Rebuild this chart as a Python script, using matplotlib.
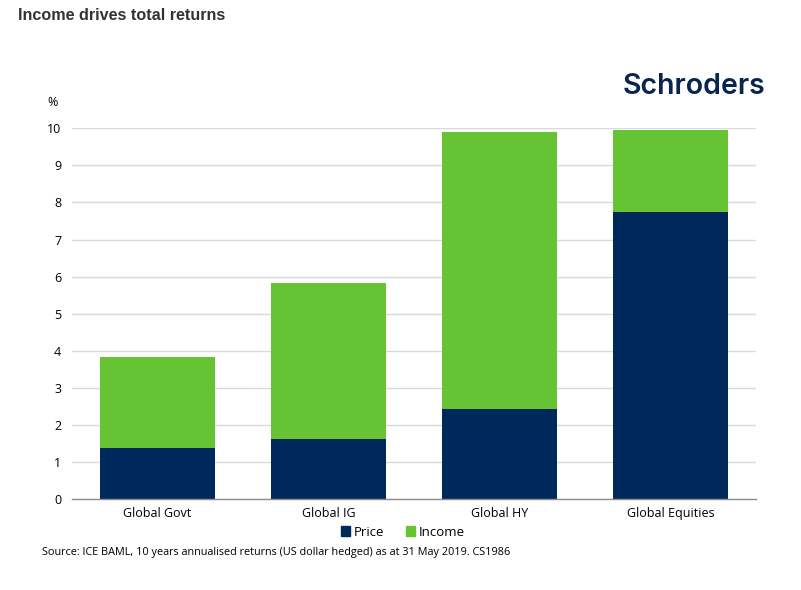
import matplotlib
matplotlib.use("Agg")
import matplotlib.pyplot as plt
import numpy as np
from matplotlib.patches import Patch

categories = ["Global Govt", "Global IG", "Global HY", "Global Equities"]
price = [1.38, 1.61, 2.43, 7.75]
income = [2.46, 4.23, 7.47, 2.20]
yticks = [0, 1, 2, 3, 4, 5, 6, 7, 8, 9, 10]

navy = "#00295B"
green = "#66C434"

plt.rcParams['font.family'] = ['Open Sans', 'DejaVu Sans']

fig = plt.figure(figsize=(8.01, 5.90), dpi=100)
ax = fig.add_axes([0.0895, 0.1542, 0.8545, 0.6283])

x = np.arange(len(categories))
ax.bar(x, price, width=0.67, color=navy, zorder=3)
ax.bar(x, income, width=0.67, bottom=price, color=green, zorder=3)

ax.set_xlim(-0.5, 3.5)
ax.set_ylim(0, 10)
ax.set_yticks(yticks)
ax.set_yticklabels([str(t) for t in yticks])
ax.set_xticks(x)
ax.set_xticklabels(categories)
ax.tick_params(axis='both', length=0, labelsize=9, colors='#000000')
ax.tick_params(axis='y', pad=7.5)
ax.tick_params(axis='x', pad=6)
ax.yaxis.grid(True, color='#d9d9d9', linewidth=1, zorder=0)
ax.set_axisbelow(True)
for s in ['top', 'right', 'left']:
    ax.spines[s].set_visible(False)
ax.spines['bottom'].set_color('#8c8c8c')
ax.spines['bottom'].set_linewidth(1)
ax.spines['bottom'].set_zorder(4)

handles = [Patch(color=navy, label='Price'), Patch(color=green, label='Income')]
fig.legend(handles=handles, loc='center', bbox_to_anchor=(403/801, 1-532/590), ncol=2,
           frameon=False, fontsize=9.5, handlelength=0.7, handleheight=0.7,
           handletextpad=0.3, columnspacing=1.6)

fig.text(18/801, 1-16/590, "Income drives total returns", fontsize=11.6, fontweight='bold',
         color='#333333', family=['Liberation Sans', 'DejaVu Sans'], va='center', ha='left')
fig.text(52.5/801, 1-103/590, "%", fontsize=9, va='center', ha='center')
fig.text(765/801, 1-86/590, "Schroders", fontsize=20.5, fontweight='semibold', color='#0A2450',
         family=['Inter', 'DejaVu Sans'], va='center', ha='right')
fig.text(42/801, 1-553/590,
         "Source: ICE BAML, 10 years annualised returns (US dollar hedged) as at 31 May 2019. CS1986",
         fontsize=7.8, va='center', ha='left')

fig.savefig("out.png", dpi=100)
